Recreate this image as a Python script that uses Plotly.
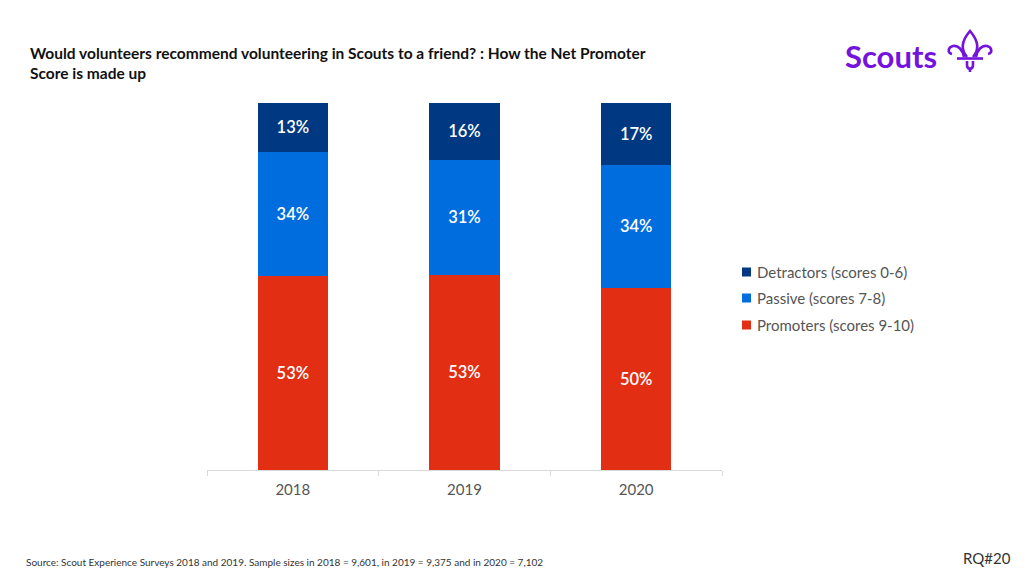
import plotly.graph_objects as go

years = ["2018", "2019", "2020"]
promoters = [52.9, 53.2, 49.6]
passive = [33.8, 31.3, 33.6]
detractors = [13.3, 15.6, 16.8]

series_names = ["Promoters (scores 9-10)", "Passive (scores 7-8)", "Detractors (scores 0-6)"]
colors = ["#e22e12", "#006ddf", "#003982"]

L, R, T, B = 207, 722, 103, 470
W, H = 1024, 576
PURPLE = "#7413dc"

fig = go.Figure()
for name, vals, col in zip(series_names, [promoters, passive, detractors], colors):
    fig.add_trace(go.Bar(
        x=years, y=vals, name=name,
        marker=dict(color=col, line=dict(width=0)),
        texttemplate="%{y:.0f}%", textposition="inside", insidetextanchor="middle",
        textfont=dict(color="white", size=16.5, family="Lato", weight=600),
        hoverinfo="skip", showlegend=False,
    ))


def px(x):
    return (x - L) / (R - L)


def py(y):
    return (B - y) / (B - T)


fig.update_layout(
    width=W, height=H,
    barmode="stack", bargap=0.59,
    paper_bgcolor="white", plot_bgcolor="white",
    margin=dict(l=L, r=W - R, t=T, b=H - B, pad=0),
    font=dict(family="Lato", color="#555555"),
    xaxis=dict(showline=True, linecolor="#d9d9d9", linewidth=1,
               ticks="outside", tickson="boundaries", ticklen=5, tickcolor="#d9d9d9",
               ticklabelstandoff=6,
               tickfont=dict(size=15, color="#555555"), showgrid=False),
    yaxis=dict(range=[0, 100], visible=False, showgrid=False),
    showlegend=False,
)

# manual legend (top item first)
legend_y = [272, 298, 325]
for (name, col), yy in zip(list(zip(series_names, colors))[::-1], legend_y):
    fig.add_shape(type="rect", xref="paper", yref="paper",
                  x0=px(742), x1=px(751), y0=py(yy - 4.5), y1=py(yy + 4.5),
                  fillcolor=col, line=dict(width=0))
    fig.add_annotation(text=name, xref="paper", yref="paper", x=px(755), y=py(yy),
                       xanchor="left", yanchor="middle", showarrow=False,
                       font=dict(size=15, color="#555555", family="Lato"))

fig.add_annotation(
    text="<b>Would volunteers recommend volunteering in Scouts to a friend? : How the Net Promoter<br>Score is made up</b>",
    xref="paper", yref="paper", x=px(28), y=py(42), xanchor="left", yanchor="top",
    showarrow=False, align="left", font=dict(size=15.5, color="#111111", family="Lato"))

fig.add_annotation(
    text="<b>Scouts</b>", xref="paper", yref="paper", x=px(843), y=py(56),
    xanchor="left", yanchor="middle", showarrow=False,
    font=dict(size=31, color=PURPLE, family="Lato", weight=900))


def pth(cmds):
    out = []
    for c in cmds:
        if isinstance(c, str):
            out.append(c)
        else:
            out.append(f"{px(c[0]):.5f},{py(c[1]):.5f}")
    return " ".join(out)


logo_paths = [
    # central petal
    ["M", (967, 57), "C", (959, 48), (964, 38), (970, 31), "C", (976, 38), (981, 48), (973, 57)],
    # left curl
    ["M", (964, 57), "C", (963, 50), (958, 45), (953, 46), "C", (948, 47), (947, 53), (952, 54)],
    # right curl
    ["M", (976, 57), "C", (977, 50), (982, 45), (987, 46), "C", (992, 47), (993, 53), (988, 54)],
    # bar
    ["M", (957, 58.5), "L", (983, 58.5)],
    # foot
    ["M", (967, 61), "L", (967, 65), "C", (967, 70), (973, 70), (973, 65), "L", (973, 61)],
    ["M", (970, 68.5), "L", (970, 72)],
]
for p in logo_paths:
    fig.add_shape(type="path", xref="paper", yref="paper", path=pth(p),
                  line=dict(color=PURPLE, width=2.6))

fig.add_annotation(
    text="Source: Scout Experience Surveys 2018 and 2019. Sample sizes in 2018 = 9,601, in 2019 = 9,375 and in 2020 = 7,102",
    xref="paper", yref="paper", x=px(24), y=py(562), xanchor="left", yanchor="middle",
    showarrow=False, font=dict(size=10, color="#333333", family="Lato"))
fig.add_annotation(
    text="RQ#20", xref="paper", yref="paper", x=px(1013), y=py(558), xanchor="right", yanchor="middle",
    showarrow=False, font=dict(size=15, color="#333333", family="Lato"))

fig.write_html("out.html", config={"displayModeBar": False},
               post_script="document.body.style.margin='0';document.body.style.overflow='hidden';")
